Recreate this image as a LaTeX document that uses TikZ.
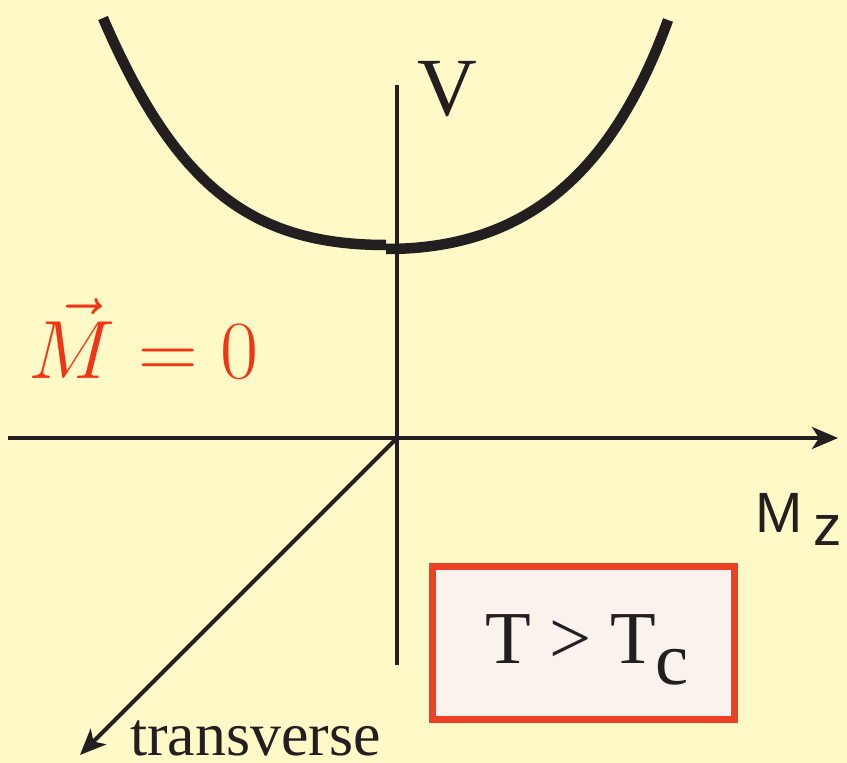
\RequirePackage{fix-cm}
\documentclass[tikz,border=0pt]{standalone}
\usepackage{fontspec}
\setmainfont{Liberation Serif}
\newfontfamily\helv{Liberation Sans}
\usetikzlibrary{arrows.meta}
\definecolor{bgyellow}{RGB}{255,249,199}
\definecolor{boxred}{RGB}{238,64,36}
\definecolor{mred}{RGB}{240,52,20}
\definecolor{boxfill}{RGB}{250,242,236}
\definecolor{ink}{RGB}{35,31,32}
\tikzset{
  axis/.style={draw=ink, line width=4bp},
  arrowaxis/.style={axis, -{Stealth[length=26bp,width=22bp,inset=7bp]}},
  potential/.style={draw=ink, line width=10.5bp},
  lbl/.style={inner sep=0pt, text=ink},
}
\begin{document}
\begin{tikzpicture}[x=1bp,y=-1bp]
\fill[bgyellow] (0,0) rectangle (847,763);
\useasboundingbox (0,0) rectangle (847,763);
\coordinate (O) at (397,438);
\coordinate (vtop) at (397,85);
\coordinate (vbot) at (397,665);
\coordinate (xl) at (8,438);
\coordinate (xr) at (838,438);
\coordinate (dtip) at (80,755);
\draw[axis] (vtop) -- (vbot);
\draw[arrowaxis] (xl) -- (xr);
\draw[arrowaxis] (O) -- (dtip);
% potential curve
\coordinate (la) at (103,18);
\coordinate (lb) at (386,245);
\coordinate (ra) at (386,249);
\coordinate (rb) at (668,20);
\draw[potential] (la) .. controls (175,185) and (250,245) .. (lb);
\draw[potential] (ra) .. controls (520,249) and (610,180) .. (rb);
% labels
\node[lbl, anchor=base] (V) at (447,115) {\fontsize{83}{83}\selectfont V};
\node[lbl, anchor=base west] (Mz) at (755,532) {\helv\fontsize{57}{57}\selectfont M\hspace{0.2em}\raisebox{-0.23em}{z}};
\node[inner sep=0pt, text=mred, anchor=base west] (M0) at (28,378) {\fontsize{83}{83}\selectfont$\vec{M}=0$};
\node[lbl, anchor=base west] (tr) at (130,755) {\fontsize{62}{62}\selectfont transverse};
\node[draw=boxred, fill=boxfill, line width=7bp, minimum width=302bp, minimum height=153bp, inner sep=0pt] (box) at (583,642.5) {};
\node[lbl, anchor=base] (T) at (587,663) {\fontsize{75}{75}\selectfont T > T\raisebox{-0.29em}{c}};
\end{tikzpicture}
\end{document}
